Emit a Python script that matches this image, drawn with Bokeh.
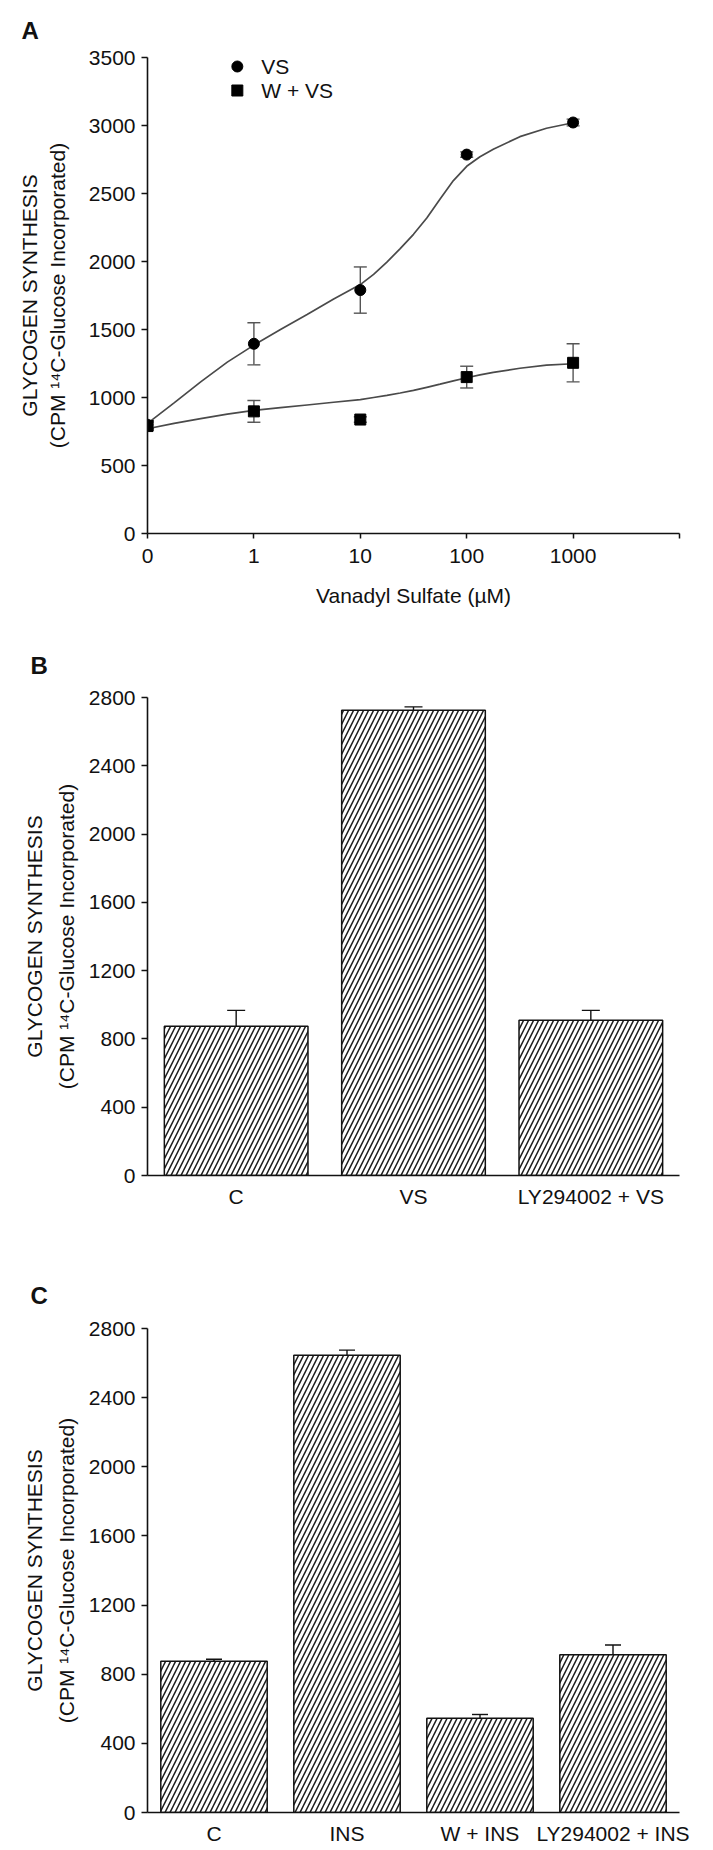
from bokeh.plotting import figure
from bokeh.layouts import column
from bokeh.models import (ColumnDataSource, Whisker, TeeHead, FixedTicker,
                          Range1d, FactorRange)
from bokeh.core.properties import value
from bokeh.embed import file_html
from bokeh.resources import INLINE

FONT = "Liberation Sans"
INK = "#111111"

# ---------------- data ----------------
# Panel A: glycogen synthesis vs vanadyl sulfate dose
conc_labels = ["0", "1", "10", "100", "1000"]
vs_mean = [800, 1395, 1790, 2786, 3022]
vs_err = [30, 155, 170, 20, 25]
wvs_mean = [790, 898, 838, 1150, 1255]
wvs_err = [30, 80, 20, 80, 140]

# fitted curves, sampled along the decade axis (0 = none, 1 = 1 uM, 2 = 10 uM ...)
curve_x = [0, 0.25, 0.5, 0.75, 1, 1.25, 1.5, 1.75, 2, 2.125, 2.25, 2.375,
           2.5, 2.625, 2.75, 2.875, 3, 3.125, 3.25, 3.5, 3.75, 4]
vs_curve = [810, 960, 1115, 1260, 1385, 1500, 1610, 1725, 1830, 1905, 1995,
            2095, 2200, 2320, 2460, 2595, 2700, 2770, 2825, 2918, 2980, 3020]
wvs_curve = [770, 810, 845, 878, 905, 925, 945, 965, 985, 1000, 1015, 1033,
             1052, 1075, 1098, 1122, 1145, 1166, 1185, 1215, 1238, 1248]

# Panel B
b_groups = ["C", "VS", "LY294002 + VS"]
b_mean = [875, 2725, 910]
b_err = [92, 20, 57]

# Panel C
c_groups = ["C", "INS", "W + INS", "LY294002 + INS"]
c_mean = [875, 2645, 545, 912]
c_err = [12, 30, 22, 57]

Y_TITLE = "GLYCOGEN SYNTHESIS\n(CPM \u00b9\u2074C-Glucose Incorporated)"

W = 713


def base_figure(letter, height, x_range, y_range, left, right, top, bottom,
                letter_offset, letter_standoff):
    p = figure(width=W, height=height, x_range=x_range, y_range=y_range,
               output_backend="svg", toolbar_location=None,
               min_border_left=left, min_border_right=right,
               min_border_top=top, min_border_bottom=bottom)
    p.outline_line_color = None
    p.xgrid.visible = False
    p.ygrid.visible = False
    p.background_fill_color = "white"
    p.border_fill_color = "white"
    # panel letter
    p.title.text = letter
    p.title.align = "left"
    p.title.offset = letter_offset
    p.title.standoff = letter_standoff
    p.title.text_font = FONT
    p.title.text_font_size = "24px"
    p.title.text_font_style = "bold"
    p.title.text_color = INK
    for ax in (p.xaxis[0], p.yaxis[0]):
        ax.axis_line_color = INK
        ax.axis_line_width = 1.6
        ax.major_tick_line_color = INK
        ax.major_tick_line_width = 1.5
        ax.major_tick_in = 0
        ax.major_tick_out = 6
        ax.minor_tick_line_color = None
        ax.major_label_text_font = FONT
        ax.major_label_text_font_size = "21px"
        ax.major_label_text_color = INK
        ax.axis_label_text_font = FONT
        ax.axis_label_text_font_size = "21px"
        ax.axis_label_text_font_style = "normal"
        ax.axis_label_text_color = INK
    p.yaxis[0].major_label_standoff = 6
    p.yaxis[0].axis_label = Y_TITLE
    return p


# ---------------- panel A ----------------
pa = base_figure("A", 620, Range1d(0, 5), Range1d(0, 3500), 146, 34, 57, 87,
                 -126, 27)

pos = list(range(len(conc_labels)))
pa.xaxis[0].ticker = FixedTicker(ticks=pos + [len(conc_labels)])
pa.xaxis[0].major_label_overrides = {**{i: s for i, s in enumerate(conc_labels)},
                                     len(conc_labels): ""}
pa.xaxis[0].major_tick_out = 5
pa.xaxis[0].major_label_standoff = 10
pa.xaxis[0].axis_label = "Vanadyl Sulfate (\u00b5M)"
pa.xaxis[0].axis_label_standoff = 18
pa.yaxis[0].ticker = FixedTicker(ticks=list(range(0, 3501, 500)))
pa.yaxis[0].axis_label_standoff = 17
pa.yaxis[0].axis_label_text_line_height = 1.2

pa.line(curve_x, vs_curve, line_color="#4a4a4a", line_width=1.7)
pa.line(curve_x, wvs_curve, line_color="#4a4a4a", line_width=1.7)

for mean, err in ((vs_mean, vs_err), (wvs_mean, wvs_err)):
    src = ColumnDataSource(dict(x=pos,
                                lo=[m - e for m, e in zip(mean, err)],
                                hi=[m + e for m, e in zip(mean, err)]))
    pa.add_layout(Whisker(source=src, base="x", lower="lo", upper="hi",
                          line_color="#555555", line_width=1.4,
                          upper_head=TeeHead(size=13, line_color="#555555", line_width=1.4),
                          lower_head=TeeHead(size=13, line_color="#555555", line_width=1.4)))

pa.scatter(pos, vs_mean, marker="circle", size=11, color="black")
pa.scatter(pos, wvs_mean, marker="square", size=11, color="black")

# legend keys, placed by pixel offset from the frame's top-left corner
FX0, FX1, FY0, FY1 = 146, 679, 57, 533


def ax_x(px):
    return (px - FX0) / (FX1 - FX0) * 5


def ax_y(py):
    return (FY1 - py) / (FY1 - FY0) * 3500


pa.scatter([ax_x(236)], [ax_y(66)], marker="circle", size=11, color="black")
pa.scatter([ax_x(236)], [ax_y(90)], marker="square", size=11, color="black")
pa.text([ax_x(260)] * 2, [ax_y(66), ax_y(90)], text=["VS", "W + VS"],
        text_font=value(FONT), text_font_size="21px", text_color=INK,
        text_align="left", text_baseline="middle")


# ---------------- bar panels ----------------
def bar_panel(letter, groups, mean, err, height, top, bottom, width, cap,
              letter_standoff):
    p = base_figure(letter, height, FactorRange(*groups), Range1d(0, 2800),
                    147, W - 690, top, bottom, -117, letter_standoff)
    p.yaxis[0].ticker = FixedTicker(ticks=list(range(0, 2801, 400)))
    p.yaxis[0].axis_label_standoff = 8
    p.yaxis[0].axis_label_text_line_height = 1.4
    p.xaxis[0].major_tick_out = 0
    p.xaxis[0].major_tick_line_color = None
    p.xaxis[0].major_label_standoff = 9
    src = ColumnDataSource(dict(x=groups, top=mean,
                                hi=[a + b for a, b in zip(mean, err)]))
    p.vbar(x="x", top="top", width=width, source=src, fill_color="white",
           line_color=INK, line_width=1.5, hatch_pattern="/", hatch_scale=10,
           hatch_weight=1.5, hatch_color="#1a1a1a")
    p.add_layout(Whisker(source=src, base="x", lower="top", upper="hi",
                         line_color=INK, line_width=1.4, lower_head=None,
                         upper_head=TeeHead(size=cap, line_color=INK, line_width=1.4)))
    return p


pb = bar_panel("B", b_groups, b_mean, b_err, 595, 77, 40, 0.81, 18, 38)
pc = bar_panel("C", c_groups, c_mean, c_err, 635, 113, 38, 0.8, 16, 40)

layout = column(pa, pb, pc, spacing=0)
open("out.html", "w").write(file_html(layout, INLINE))
